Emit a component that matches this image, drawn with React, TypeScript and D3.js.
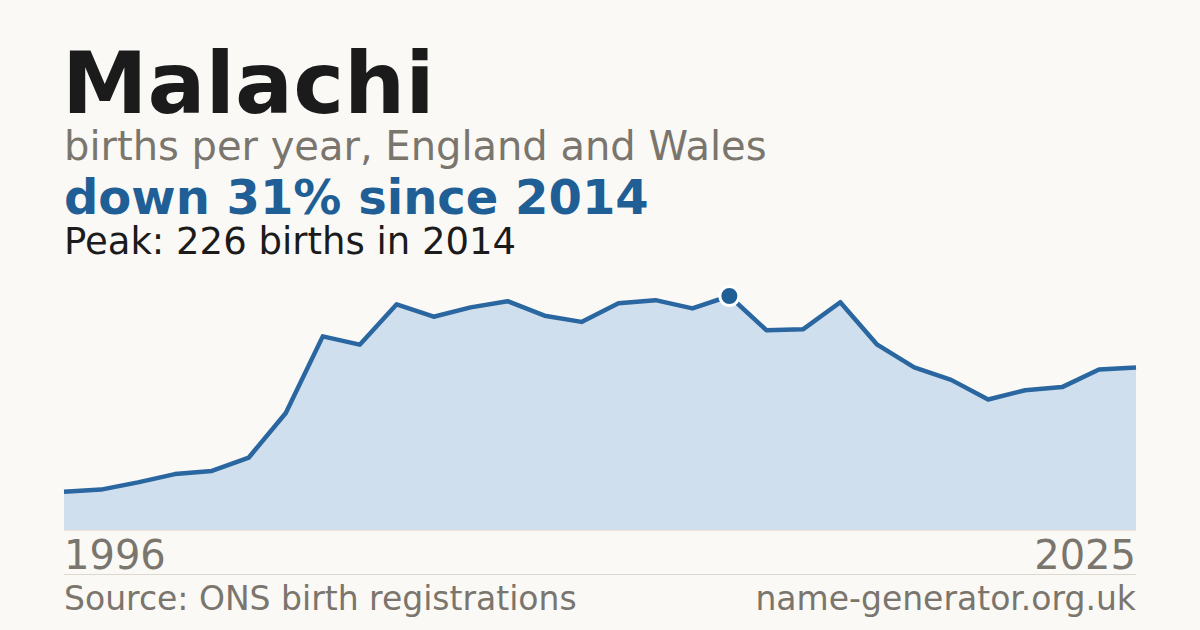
import { useEffect, useRef } from 'react'
import * as d3 from 'd3'

const YEARS = d3.range(1996, 2026)
const BIRTHS = [
  37, 39, 46, 54, 57, 70, 113, 187, 179, 218,
  206, 215, 221, 207, 201, 219, 222, 214, 226, 193,
  194, 220, 179, 157, 145, 126, 135, 138, 155, 157,
]
const PEAK_YEAR = 2014

const W = 1200
const H = 630
const FONT = '"DejaVu Sans", sans-serif'

export default function App() {
  const svgRef = useRef<SVGSVGElement>(null)

  useEffect(() => {
    const svgEl = svgRef.current
    if (!svgEl) return
    const svg = d3.select(svgEl)
    svg.selectAll('*').remove()

    svg.append('rect').attr('width', W).attr('height', H).attr('fill', '#faf9f5')

    const left = 64
    const right = 1136
    const bottom = 530
    const top = 296

    const data = YEARS.map((y, i) => ({ year: y, v: BIRTHS[i] }))
    const x = d3.scaleLinear().domain([1996, 2025]).range([left, right])
    const y = d3.scaleLinear().domain([0, d3.max(BIRTHS) as number]).range([bottom, top])

    const area = d3.area<typeof data[0]>()
      .x(d => x(d.year)).y0(bottom).y1(d => y(d.v))
    const line = d3.line<typeof data[0]>()
      .x(d => x(d.year)).y(d => y(d.v))

    svg.append('path').attr('d', area(data)).attr('fill', '#cfdfee')
    svg.append('line').attr('x1', left).attr('x2', right).attr('y1', bottom + 0.5).attr('y2', bottom + 0.5)
      .attr('stroke', '#ece3d6').attr('stroke-width', 1)
    svg.append('path').attr('d', line(data)).attr('fill', 'none')
      .attr('stroke', '#2a66a0').attr('stroke-width', 4.5).attr('stroke-linejoin', 'round')

    const peak = data.find(d => d.year === PEAK_YEAR)!
    svg.append('circle').attr('cx', x(peak.year)).attr('cy', y(peak.v)).attr('r', 9.5)
      .attr('fill', '#1f5f96').attr('stroke', '#ffffff').attr('stroke-width', 3)

    const txt = (tx: number, ty: number, s: string, size: number, fill: string, weight = 400, anchor = 'start') =>
      svg.append('text').attr('x', tx).attr('y', ty).attr('font-family', FONT)
        .attr('font-size', size).attr('font-weight', weight).attr('fill', fill)
        .attr('text-anchor', anchor).text(s)

    txt(62, 113, 'Malachi', 86, '#1b1b1b', 700)
    txt(64, 160, 'births per year, England and Wales', 40, '#7a756d')
    txt(64, 214, 'down 31% since 2014', 48, '#1f5f96', 700)
    txt(64, 254, 'Peak: 226 births in 2014', 37, '#1b1b1b')

    txt(left, 569, '1996', 40, '#7a756d')
    txt(right, 569, '2025', 40, '#7a756d', 400, 'end')

    svg.append('line').attr('x1', left).attr('x2', right).attr('y1', 574.5).attr('y2', 574.5)
      .attr('stroke', '#dcd8d0').attr('stroke-width', 1)

    txt(64, 610, 'Source: ONS birth registrations', 33, '#7a756d')
    txt(right, 610, 'name-generator.org.uk', 33, '#7a756d', 400, 'end')
  }, [])

  return (
    <svg ref={svgRef} width={W} height={H}
      style={{ position: 'absolute', left: 0, top: 0, display: 'block' }} />
  )
}
